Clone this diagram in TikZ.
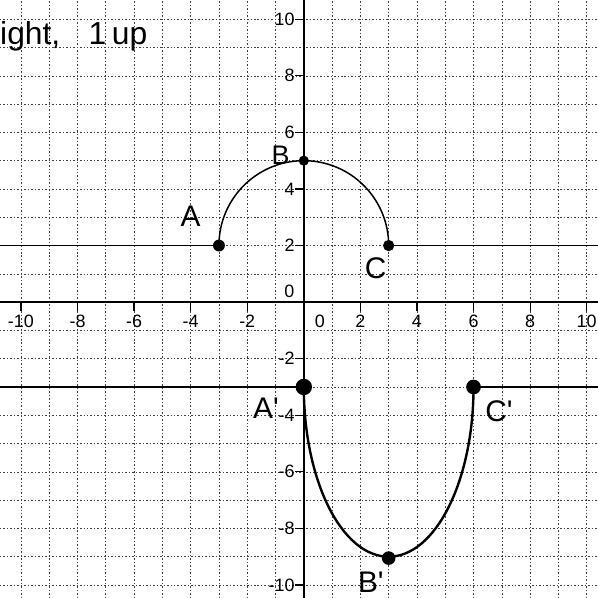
\documentclass[tikz,border=0pt]{standalone}
\usepackage{fontspec}
\setmainfont{Liberation Sans}
\begin{document}
\begin{tikzpicture}[
  gridline/.style={black!75, line width=0.6pt, dash pattern=on 1.5pt off 2pt},
  axisline/.style={black, line width=1.6pt},
  tickline/.style={black, line width=1.2pt},
  curve/.style={black, line width=1.5pt},
  bigcurve/.style={black, line width=2.4pt},
  ticklab/.style={font=\fontsize{18}{18}\selectfont, inner sep=0pt},
  hand/.style={font=\fontsize{30}{30}\selectfont, inner sep=0pt},
  ptdot/.style={circle, fill=black, inner sep=0pt, minimum size=#1},
]
\useasboundingbox (-10.74,-10.46) rectangle (10.40,10.68);
\fill[white] (-10.74,-10.46) rectangle (10.40,10.68);
% grid
\foreach \i in {-10,...,10} {
  \draw[gridline] (\i,-10.46) -- (\i,10.68);
  \draw[gridline] (-10.74,\i) -- (10.40,\i);
}
% axes
\coordinate (xl) at (-10.74,0);
\coordinate (xr) at (10.40,0);
\coordinate (yb) at (0,-10.46);
\coordinate (yt) at (0,10.68);
\draw[axisline] (xl) -- (xr);
\draw[axisline] (yb) -- (yt);
% ticks and labels
\foreach \x in {-10,-8,-6,-4,-2,2,4,6,8,10} {
  \draw[tickline] (\x,0) -- (\x,-0.3);
  \node[ticklab] at (\x,-0.68) {\x};
}
\node[ticklab] (x0) at (0.57,-0.68) {0};
\foreach \y in {-10,-8,-6,-4,-2,2,4,6,8,10} {
  \draw[tickline] (-0.3,\y) -- (0,\y);
  \node[ticklab, anchor=east] at (-0.32,\y) {\y};
}
\node[ticklab, anchor=east] (y0) at (-0.33,0.38) {0};
% original figure
\node[ptdot=0.42cm] (A) at (-3,2) {};
\node[ptdot=0.36cm] (B) at (0,5) {};
\node[ptdot=0.40cm] (C) at (3,2) {};
\coordinate (L1) at (-10.74,2);
\coordinate (R1) at (10.40,2);
\draw[curve] (L1) -- (A.center);
\draw[curve] (C.center) -- (R1);
\draw[curve] (A.center) arc[start angle=180, end angle=0, radius=3];
% transformed figure
\node[ptdot=0.58cm] (A2) at (0,-3) {};
\node[ptdot=0.48cm] (B2) at (3,-9.05) {};
\node[ptdot=0.52cm] (C2) at (6,-3) {};
\coordinate (L2) at (-10.74,-3);
\coordinate (R2) at (10.40,-3);
\draw[bigcurve] (L2) -- (A2.center);
\draw[bigcurve] (C2.center) -- (R2);
\draw[bigcurve] (A2.center) arc[start angle=180, end angle=360, x radius=3, y radius=6];
% handwritten labels
\node[hand] (la) at (-4.0,3.05) {A};
\node[hand, font=\fontsize{27}{27}\selectfont] (lb) at (-0.82,5.2) {B};
\node[hand] (lc) at (2.54,1.2) {C};
\node[hand] (la2) at (-1.34,-3.76) {A\textquotesingle};
\node[hand] (lb2) at (2.37,-9.9) {B\textquotesingle};
\node[hand] (lc2) at (6.9,-3.87) {C\textquotesingle};
\node[font=\fontsize{32}{32}\selectfont, inner sep=0pt, anchor=base west] (note) at (-10.74,9.1) {ight,\hspace{1.0cm}1\hspace{0.2cm}up};
\end{tikzpicture}
\end{document}
